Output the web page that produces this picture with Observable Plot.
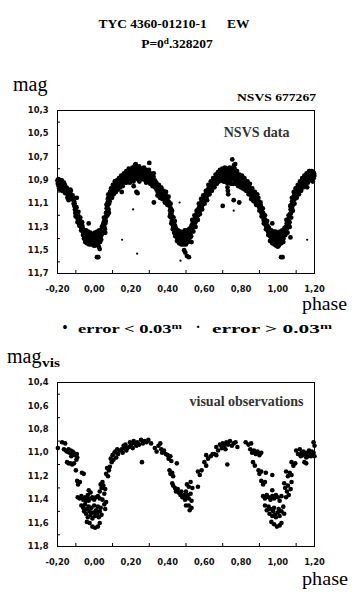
<!DOCTYPE html>
<html>
<head>
<meta charset="utf-8">
<script src="https://cdn.jsdelivr.net/npm/d3@7"></script>
<script src="https://cdn.jsdelivr.net/npm/@observablehq/plot@0.6"></script>
<style>
  html, body { margin: 0; padding: 0; background: #fff; }
  #root { position: relative; width: 355px; height: 594px; overflow: hidden; background: #fff; }
  .txt { position: absolute; line-height: 1; white-space: pre; font-family: "Liberation Serif", "Times New Roman", serif; color: #000; }
  .plotbox { position: absolute; left: 0; }
</style>
</head>
<body>
<div id="root"></div>
<script>
// ---------- tick values ----------
const xTickValues = [-0.2, 0, 0.2, 0.4, 0.6, 0.8, 1.0, 1.2];
const xMinorTicks = [-0.1, 0.1, 0.3, 0.5, 0.7, 0.9, 1.1];
const yTicksTop = [10.3, 10.5, 10.7, 10.9, 11.1, 11.3, 11.5, 11.7];
const yMinorTop = [10.4, 10.6, 10.8, 11.0, 11.2, 11.4, 11.6];
const yTicksBottom = [10.4, 10.6, 10.8, 11.0, 11.2, 11.4, 11.6, 11.8];
const yMinorBottom = [10.5, 10.7, 10.9, 11.1, 11.3, 11.5, 11.7];

// ---------- texts ----------
const titleLine1 = "TYC 4360-01210-1      EW";
const titleLine2 = ["P=0", "d", ".328207"];
const topYLabel = "mag";
const starId = "NSVS 677267";
const topPanelLabel = "NSVS data";
const bottomPanelLabel = "visual observations";
const xLabel = "phase";
const legendLow = ["error < 0.03", "m"];
const legendHigh = ["error > 0.03", "m"];
const bottomYLabel = ["mag", "vis"];

// ---------- NSVS data: error < 0.03 mag  [phase, mag] ----------
const nsvsPrecise = [
  [-0.200,10.90],[-0.198,10.93],[-0.195,10.89],[-0.193,10.95],[-0.190,10.91],[-0.188,10.93],[-0.185,10.90],[-0.183,10.96],
  [-0.180,10.92],[-0.178,10.94],[-0.175,10.91],[-0.172,10.95],[-0.170,10.93],[-0.167,10.96],[-0.165,10.92],[-0.162,10.97],
  [-0.160,10.94],[-0.185,10.98],[-0.175,10.99],
  [-0.155,10.98],[-0.150,11.00],[-0.148,10.97],[-0.145,11.02],[-0.142,11.04],[-0.140,10.99],[-0.138,11.03],[-0.136,11.05],
  [-0.134,11.01],[-0.130,10.98],[-0.128,11.02],[-0.125,11.04],[-0.120,11.06],[-0.115,11.05],[-0.095,11.05],
  [-0.110,11.08],[-0.108,11.12],[-0.105,11.15],[-0.103,11.18],[-0.100,11.14],[-0.098,11.20],[-0.095,11.17],[-0.093,11.22],
  [-0.090,11.19],[-0.088,11.24],[-0.085,11.21],[-0.083,11.26],[-0.080,11.23],[-0.078,11.28],[-0.075,11.25],[-0.072,11.30],
  [-0.070,11.27],[-0.067,11.32],[-0.065,11.29],[-0.062,11.34],
  [-0.058,11.36],[-0.055,11.33],[-0.052,11.38],[-0.050,11.35],[-0.047,11.40],[-0.045,11.36],[-0.042,11.38],[-0.040,11.41],
  [-0.037,11.37],[-0.035,11.39],[-0.032,11.42],[-0.030,11.36],[-0.027,11.40],[-0.025,11.38],[-0.022,11.43],[-0.020,11.37],
  [-0.017,11.40],[-0.015,11.42],[-0.012,11.38],[-0.010,11.44],[-0.007,11.39],[-0.005,11.41],[-0.002,11.37],[0.000,11.43],
  [0.003,11.39],[0.005,11.41],[0.008,11.36],[0.010,11.40],[0.012,11.45],[0.015,11.38],[0.018,11.42],[0.020,11.36],
  [0.022,11.39],[0.025,11.47],[0.028,11.37],[0.030,11.40],[0.033,11.35],[0.036,11.38],[0.040,11.33],[0.043,11.36],
  [-0.030,11.27],[0.005,11.46],[0.030,11.49],[0.015,11.56],[0.022,11.56],
  [0.045,11.31],[0.048,11.28],[0.050,11.33],[0.052,11.26],[0.055,11.30],[0.057,11.24],[0.060,11.27],[0.062,11.22],
  [0.064,11.18],[0.066,11.21],[0.068,11.14],[0.070,11.17],[0.071,11.10],[0.073,11.12],[0.074,11.06],[0.076,11.08],
  [0.078,11.15],[0.079,11.04],[0.081,11.10],[0.083,11.06],[0.085,11.02],[0.088,11.05],[0.060,11.35],
  [0.090,11.00],[0.093,11.03],[0.095,10.98],[0.098,11.01],[0.100,10.96],[0.103,10.99],[0.106,11.02],[0.108,10.95],
  [0.111,10.98],[0.114,10.94],[0.117,10.97],[0.120,10.93],[0.123,10.96],[0.126,10.92],[0.130,10.95],[0.133,10.91],
  [0.136,10.94],[0.140,10.90],[0.143,10.93],[0.146,10.89],[0.150,10.92],[0.153,10.88],[0.157,10.91],[0.150,11.00],
  [0.160,10.87],[0.163,10.90],[0.166,10.86],[0.170,10.89],[0.173,10.85],[0.176,10.92],[0.180,10.88],[0.183,10.84],
  [0.186,10.87],[0.190,10.83],[0.193,10.86],[0.196,10.90],[0.200,10.84],[0.203,10.81],[0.206,10.86],[0.210,10.83],
  [0.213,10.88],[0.216,10.80],[0.220,10.85],[0.222,10.77],[0.225,10.82],[0.228,10.79],[0.230,10.86],[0.233,10.83],
  [0.236,10.89],[0.240,10.81],[0.243,10.85],[0.246,10.91],[0.250,10.83],[0.253,10.80],[0.256,10.87],[0.260,10.84],
  [0.263,10.82],[0.266,10.89],[0.270,10.85],[0.273,10.81],[0.276,10.87],[0.280,10.84],[0.283,10.92],[0.286,10.86],
  [0.290,10.83],[0.293,10.88],[0.296,10.85],[0.300,10.91],[0.303,10.87],[0.306,10.84],[0.310,10.89],[0.313,10.93],
  [0.316,10.88],[0.320,10.91],[0.323,10.87],[0.326,10.94],[0.330,10.90],[0.333,10.93],
  [0.226,10.76],[0.300,10.75],[0.230,11.00],[0.236,11.01],[0.215,10.95],
  [0.336,10.95],[0.340,10.98],[0.343,10.95],[0.346,11.00],[0.350,10.97],[0.353,10.99],[0.356,11.02],[0.360,10.98],
  [0.363,11.01],[0.366,10.97],[0.370,11.03],[0.373,11.00],[0.376,11.05],[0.380,11.02],[0.383,11.04],[0.386,11.07],
  [0.390,11.03],[0.393,11.06],[0.396,11.09],[0.400,11.05],[0.403,11.08],[0.325,11.09],
  [0.410,11.12],[0.413,11.16],[0.415,11.19],[0.417,11.14],[0.419,11.22],[0.421,11.18],[0.423,11.25],[0.425,11.21],
  [0.427,11.28],[0.429,11.24],[0.431,11.30],[0.434,11.27],[0.437,11.32],[0.440,11.29],
  [0.443,11.34],[0.446,11.37],[0.449,11.33],[0.452,11.39],[0.455,11.36],[0.458,11.41],[0.461,11.37],[0.464,11.34],
  [0.467,11.40],[0.470,11.38],[0.473,11.42],[0.476,11.36],[0.479,11.39],[0.482,11.43],[0.485,11.37],[0.488,11.40],
  [0.491,11.35],[0.494,11.41],[0.497,11.38],[0.500,11.42],[0.503,11.36],[0.506,11.39],[0.509,11.34],[0.512,11.37],
  [0.515,11.40],[0.518,11.33],[0.521,11.36],[0.524,11.31],
  [0.490,11.50],[0.496,11.52],[0.505,11.55],[0.516,11.56],[0.530,11.43],
  [0.527,11.34],[0.530,11.29],[0.533,11.32],[0.536,11.27],[0.539,11.30],[0.542,11.25],[0.545,11.28],[0.548,11.23],
  [0.551,11.26],[0.554,11.21],[0.557,11.19],[0.560,11.23],[0.563,11.16],[0.566,11.20],[0.569,11.14],[0.572,11.17],
  [0.575,11.12],[0.578,11.15],[0.581,11.10],[0.584,11.13],[0.587,11.08],[0.590,11.11],[0.593,11.06],[0.596,11.09],
  [0.600,11.04],[0.603,11.07],[0.606,11.02],
  [0.610,11.05],[0.613,11.00],[0.616,11.03],[0.620,10.98],[0.623,11.01],[0.626,10.96],[0.630,10.99],[0.633,10.94],
  [0.636,10.97],[0.640,10.92],[0.643,10.95],[0.646,10.91],[0.650,10.94],[0.653,10.89],[0.656,10.92],[0.660,10.88],
  [0.663,10.91],[0.666,10.87],[0.670,10.90],[0.673,10.86],
  [0.676,10.89],[0.680,10.85],[0.683,10.88],[0.686,10.84],[0.690,10.87],[0.693,10.83],[0.696,10.90],[0.700,10.86],
  [0.703,10.82],[0.706,10.88],[0.710,10.85],[0.713,10.91],[0.716,10.83],[0.720,10.87],[0.723,10.92],[0.726,10.84],
  [0.730,10.88],[0.733,10.81],[0.736,10.86],[0.740,10.90],[0.743,10.83],[0.746,10.87],[0.750,10.80],[0.753,10.85],
  [0.756,10.89],[0.760,10.83],[0.763,10.87],[0.766,10.91],[0.770,10.86],[0.773,10.89],[0.776,10.84],[0.780,10.88],
  [0.783,10.92],[0.786,10.87],[0.790,10.90],[0.793,10.88],[0.796,10.93],[0.800,10.89],[0.803,10.92],[0.806,10.90],
  [0.810,10.94],[0.813,10.91],[0.816,10.93],[0.820,10.90],[0.823,10.95],
  [0.752,10.72],[0.762,10.77],[0.768,10.76],[0.700,11.12],[0.730,11.02],[0.726,10.96],[0.728,10.99],[0.760,11.07],[0.790,11.09],
  [0.826,10.92],[0.830,10.96],[0.833,10.93],[0.836,10.98],[0.840,10.95],[0.843,11.00],[0.846,10.96],[0.850,11.02],
  [0.853,10.98],[0.856,11.03],[0.860,11.00],[0.863,11.05],[0.866,11.01],[0.870,11.04],[0.873,11.07],[0.876,11.03],
  [0.880,11.06],[0.884,11.09],[0.887,11.05],[0.890,11.08],
  [0.893,11.11],[0.896,11.08],[0.899,11.13],[0.902,11.10],[0.905,11.15],[0.908,11.12],[0.911,11.18],[0.914,11.15],
  [0.917,11.21],[0.920,11.18],[0.923,11.24],[0.926,11.21],[0.929,11.27],[0.932,11.24],[0.935,11.29],[0.938,11.26],
  [0.941,11.32],[0.944,11.29],[0.947,11.34],[0.950,11.31],
  [0.953,11.36],[0.956,11.33],[0.959,11.38],[0.962,11.35],[0.965,11.40],[0.968,11.37],[0.971,11.34],[0.974,11.39],
  [0.977,11.42],[0.980,11.36],[0.983,11.40],[0.986,11.38],[0.989,11.43],[0.992,11.37],[0.995,11.41],[0.998,11.39],
  [1.001,11.44],[1.004,11.38],[1.007,11.42],[1.010,11.36],[1.013,11.40],[1.016,11.37],[1.019,11.41],[1.022,11.35],
  [1.025,11.39],[1.028,11.36],[1.031,11.40],[1.034,11.33],[1.037,11.37],
  [0.970,11.27],[0.990,11.46],[1.000,11.47],[1.018,11.56],[1.026,11.56],
  [1.040,11.33],[1.043,11.30],[1.046,11.34],[1.049,11.27],[1.052,11.31],[1.055,11.25],[1.058,11.28],[1.061,11.22],
  [1.064,11.26],[1.067,11.19],[1.070,11.15],[1.072,11.18],[1.074,11.11],[1.076,11.14],[1.078,11.08],[1.080,11.12],
  [1.083,11.05],[1.086,11.09],[1.089,11.03],[1.092,11.06],[1.069,11.39],
  [1.095,11.01],[1.098,11.04],[1.101,10.99],[1.104,11.02],[1.107,10.97],[1.110,11.00],[1.113,10.95],[1.116,10.98],
  [1.119,10.94],[1.122,10.97],[1.125,10.92],[1.128,10.95],[1.131,10.91],[1.134,10.94],[1.137,10.90],[1.140,10.93],
  [1.143,10.89],[1.146,10.92],[1.150,10.88],[1.153,10.91],[1.156,10.87],[1.160,10.90],[1.163,10.86],[1.166,10.89],
  [1.170,10.85],[1.173,10.88],[1.176,10.84],[1.180,10.87],[1.183,10.85],[1.186,10.89],[1.190,10.86],[1.193,10.83],
  [1.196,10.88],[1.199,10.86],[1.160,10.96],[1.185,10.82],[1.175,10.82],
  [-0.197,10.91],[-0.191,10.97],[-0.182,10.93],[-0.177,10.90],[-0.169,10.98],[-0.163,10.95],[-0.158,11.01],[-0.152,10.96],
  [-0.146,11.05],[-0.139,11.07],[-0.132,11.04],[-0.127,10.99],[-0.118,11.03],[-0.112,11.10],
  [-0.107,11.10],[-0.101,11.21],[-0.097,11.13],[-0.091,11.26],[-0.086,11.17],[-0.081,11.29],[-0.076,11.22],[-0.071,11.33],
  [-0.066,11.26],[-0.061,11.37],[-0.063,11.31],
  [-0.056,11.40],[-0.049,11.43],[-0.044,11.33],[-0.039,11.44],[-0.033,11.34],[-0.028,11.45],[-0.021,11.35],[-0.016,11.45],
  [-0.009,11.36],[-0.003,11.46],[0.004,11.35],[0.009,11.43],[0.016,11.34],[0.021,11.44],[0.027,11.33],[0.032,11.43],
  [0.038,11.41],[0.042,11.30],
  [0.047,11.35],[0.053,11.22],[0.058,11.32],[0.063,11.25],[0.067,11.11],[0.072,11.20],[0.077,11.02],[0.080,11.18],
  [0.084,11.08],[0.087,11.00],
  [0.092,10.97],[0.097,11.05],[0.102,10.94],[0.107,10.99],[0.112,10.91],[0.118,11.00],[0.124,10.90],[0.129,10.98],
  [0.135,10.88],[0.141,10.96],[0.147,10.86],[0.155,10.95],
  [0.162,10.84],[0.168,10.92],[0.175,10.82],[0.181,10.91],[0.188,10.80],[0.194,10.92],[0.201,10.88],[0.208,10.79],
  [0.214,10.91],[0.219,10.82],[0.226,10.88],[0.232,10.80],[0.238,10.85],[0.245,10.78],[0.251,10.88],[0.258,10.81],
  [0.265,10.86],[0.271,10.79],[0.278,10.90],[0.284,10.81],[0.291,10.86],[0.298,10.81],[0.305,10.93],[0.311,10.85],
  [0.318,10.95],[0.324,10.84],[0.331,10.96],
  [0.338,10.92],[0.345,11.03],[0.352,10.94],[0.358,11.05],[0.364,10.96],[0.371,11.06],[0.378,10.99],[0.385,11.09],
  [0.391,11.00],[0.398,11.11],[0.405,11.04],
  [0.408,11.09],[0.412,11.21],[0.416,11.10],[0.420,11.27],[0.424,11.16],[0.428,11.32],[0.432,11.22],[0.436,11.35],
  [0.439,11.25],[0.442,11.38],
  [0.445,11.31],[0.451,11.42],[0.457,11.33],[0.463,11.44],[0.469,11.34],[0.475,11.45],[0.481,11.35],[0.487,11.45],
  [0.493,11.33],[0.499,11.45],[0.505,11.33],[0.511,11.43],[0.517,11.32],[0.523,11.39],
  [0.528,11.38],[0.534,11.24],[0.540,11.34],[0.546,11.20],[0.552,11.30],[0.558,11.16],[0.564,11.24],[0.570,11.10],
  [0.576,11.19],[0.582,11.06],[0.588,11.15],[0.594,11.03],[0.601,11.10],
  [0.608,10.99],[0.615,11.07],[0.622,10.94],[0.628,11.02],[0.635,10.91],[0.641,10.99],[0.648,10.88],[0.655,10.96],
  [0.661,10.85],[0.668,10.93],[0.674,10.83],
  [0.679,10.91],[0.685,10.81],[0.692,10.90],[0.698,10.80],[0.705,10.91],[0.712,10.79],[0.718,10.90],[0.725,10.80],
  [0.732,10.92],[0.738,10.79],[0.745,10.93],[0.751,10.82],[0.758,10.93],[0.765,10.80],[0.772,10.93],[0.778,10.82],
  [0.785,10.95],[0.791,10.85],[0.798,10.96],[0.805,10.86],[0.811,10.97],[0.818,10.88],[0.822,10.98],
  [0.828,10.99],[0.835,10.91],[0.841,11.02],[0.848,10.93],[0.855,11.06],[0.861,10.97],[0.868,11.08],[0.875,11.00],
  [0.882,11.11],[0.888,11.02],
  [0.894,11.05],[0.900,11.16],[0.906,11.09],[0.912,11.21],[0.918,11.14],[0.924,11.27],[0.930,11.20],[0.936,11.32],
  [0.942,11.25],[0.948,11.37],
  [0.952,11.31],[0.958,11.42],[0.964,11.33],[0.970,11.44],[0.976,11.34],[0.982,11.45],[0.988,11.34],[0.994,11.45],
  [1.000,11.35],[1.006,11.46],[1.012,11.34],[1.018,11.44],[1.024,11.33],[1.030,11.43],[1.036,11.31],
  [1.041,11.37],[1.047,11.24],[1.053,11.35],[1.059,11.20],[1.065,11.30],[1.068,11.12],[1.073,11.22],[1.077,11.05],
  [1.082,11.16],[1.087,11.00],[1.091,11.10],
  [1.097,10.97],[1.103,11.05],[1.109,10.94],[1.115,11.02],[1.121,10.91],[1.127,10.99],[1.133,10.88],[1.139,10.96],
  [1.145,10.86],[1.151,10.94],[1.157,10.84],[1.164,10.92],[1.171,10.82],[1.178,10.90],[1.184,10.83],[1.191,10.91],
  [1.197,10.84]
];

// ---------- NSVS data: error > 0.03 mag ----------
const nsvsRough = [
  [0.212,11.15],[0.152,11.41],[0.234,11.53],[0.465,11.09],[0.470,11.59],[0.760,11.16],[1.160,11.41]
];

// ---------- visual observations [phase, mag] ----------
const visualObs = [
  [-0.198,10.96],[-0.175,10.91],[-0.158,10.92],[-0.165,10.97],[-0.155,10.98],[-0.148,10.99],[-0.140,10.97],[-0.135,11.00],
  [-0.128,10.98],[-0.122,11.01],[-0.118,10.99],[-0.112,11.00],[-0.125,11.03],[-0.105,11.02],[-0.095,11.01],[-0.092,11.04],
  [-0.097,11.06],[-0.148,11.08],[-0.140,11.09],[-0.130,11.09],[-0.120,11.10],[-0.110,11.09],[-0.100,11.15],[-0.067,11.17],
  [-0.057,11.18],[-0.093,11.24],[-0.088,11.27],[-0.078,11.25],[-0.030,11.32],[-0.020,11.34],
  [-0.090,11.38],[-0.080,11.39],[-0.070,11.37],[-0.060,11.40],[-0.050,11.38],[-0.040,11.39],[-0.030,11.41],[-0.020,11.39],
  [-0.010,11.38],[0.000,11.40],[0.010,11.38],[0.020,11.37],[0.030,11.39],[-0.035,11.36],[-0.045,11.41],
  [-0.070,11.45],[-0.060,11.47],[-0.055,11.50],[-0.050,11.44],[-0.045,11.52],[-0.040,11.48],[-0.035,11.55],[-0.030,11.46],
  [-0.025,11.50],[-0.020,11.53],[-0.015,11.47],[-0.010,11.56],[-0.005,11.51],[0.000,11.45],[0.005,11.54],[0.010,11.49],
  [0.015,11.52],[0.020,11.46],[0.025,11.55],[0.030,11.50],[0.035,11.47],[0.040,11.53],
  [-0.040,11.59],[-0.025,11.60],[-0.010,11.63],[0.005,11.64],[0.020,11.63],[0.030,11.60],
  [0.030,11.33],[0.035,11.27],[0.040,11.30],[0.045,11.25],[0.050,11.28],[0.055,11.35],[0.060,11.31],
  [0.045,11.40],[0.055,11.44],[0.060,11.48],[0.065,11.42],
  [0.065,11.18],[0.070,11.13],[0.075,11.20],[0.080,11.15],[0.085,11.12],
  [0.090,11.05],[0.095,11.08],[0.100,11.02],[0.105,11.06],[0.110,11.00],[0.120,11.04],
  [0.115,10.99],[0.125,10.97],[0.130,11.01],[0.140,10.98],[0.150,10.97],[0.155,11.00],[0.165,10.96],[0.175,10.98],
  [0.160,10.94],[0.170,10.93],[0.180,10.96],[0.190,10.95],[0.200,10.93],[0.210,10.96],[0.220,10.92],[0.230,10.94],
  [0.195,10.91],[0.215,10.90],[0.235,10.91],[0.245,10.93],[0.255,10.89],[0.265,10.92],[0.275,10.90],[0.285,10.91],
  [0.295,10.89],[0.310,10.92],[0.260,11.08],
  [0.330,10.96],[0.340,10.99],[0.350,10.94],[0.360,10.92],[0.365,10.97],[0.370,11.00],[0.380,10.98],[0.390,11.01],
  [0.400,11.02],[0.405,11.05],[0.415,11.03],[0.420,11.07],[0.450,11.09],
  [0.410,11.15],[0.415,11.18],[0.425,11.17],[0.430,11.20],
  [0.425,11.26],[0.430,11.28],[0.440,11.30],[0.445,11.33],[0.455,11.31],[0.460,11.34],[0.470,11.36],[0.475,11.33],
  [0.480,11.38],[0.490,11.36],[0.495,11.40],[0.505,11.38],[0.500,11.45],
  [0.500,11.33],[0.510,11.36],[0.515,11.39],[0.525,11.35],[0.530,11.41],
  [0.505,11.27],[0.515,11.29],[0.525,11.25],[0.535,11.30],
  [0.515,11.45],[0.520,11.49],[0.530,11.47],[0.565,11.29],
  [0.565,11.16],[0.575,11.19],[0.585,11.15],[0.600,11.08],[0.610,11.11],
  [0.610,11.02],[0.620,11.05],[0.635,11.03],[0.645,11.01],[0.655,11.01],[0.665,11.02],
  [0.665,10.95],[0.675,10.98],[0.685,10.93],[0.695,10.96],[0.710,10.94],[0.715,10.97],
  [0.700,10.92],[0.720,10.91],[0.730,10.93],[0.740,10.90],[0.750,10.94],[0.760,10.92],[0.770,10.91],[0.780,10.95],
  [0.725,11.10],
  [0.825,10.91],[0.840,10.93],[0.855,10.92],
  [0.850,10.97],[0.860,11.00],[0.870,10.98],[0.880,11.01],[0.890,10.99],[0.900,11.02],[0.910,11.00],
  [0.865,11.08],[0.875,11.11],
  [0.895,11.15],[0.900,11.18],[0.910,11.16],[0.935,11.17],
  [0.910,11.24],[0.920,11.27],[0.930,11.25],[0.970,11.19],
  [0.920,11.37],[0.930,11.39],[0.940,11.36],[0.950,11.38],[0.960,11.40],[0.970,11.37],[0.980,11.39],[0.990,11.36],
  [1.000,11.38],[1.010,11.41],[1.020,11.37],[0.970,11.32],
  [0.930,11.45],[0.940,11.49],[0.950,11.46],[0.955,11.52],[0.960,11.48],[0.970,11.54],[0.975,11.50],[0.980,11.47],
  [0.985,11.53],[0.990,11.55],[1.000,11.51],[1.005,11.48],[1.010,11.54],[1.020,11.50],[1.030,11.46],[1.035,11.52],
  [0.965,11.59],[0.980,11.61],[0.995,11.63],[1.010,11.62],[1.020,11.60],
  [1.035,11.26],[1.040,11.30],[1.050,11.33],[1.055,11.28],[1.060,11.36],[1.070,11.31],[1.075,11.25],[1.045,11.38],
  [1.045,11.16],[1.055,11.20],[1.065,11.17],[1.075,11.19],
  [1.075,11.08],[1.085,11.11],[1.095,11.09],
  [1.100,10.98],[1.110,11.01],[1.120,10.97],[1.130,11.00],
  [1.125,11.03],[1.135,11.02],[1.140,10.99],[1.150,11.01],[1.155,11.04],[1.160,11.00],[1.165,11.03],[1.170,10.98],
  [1.175,11.01],[1.180,11.03],[1.185,10.99],[1.190,11.02],[1.195,11.00],[1.200,11.03],
  [1.195,10.91],[1.200,10.94],[1.145,11.08],[1.155,11.09]
];

// ---------- helpers ----------
const root = document.getElementById("root");
const fmtX = d => d.toFixed(2).replace(".", ",");
const fmtY = d => d.toFixed(1).replace(".", ",");

function addText(html, {x, y, size, weight = "normal", anchor = "start", width = null, color = "#000"}) {
  const el = document.createElement("div");
  el.className = "txt";
  el.innerHTML = html;
  el.style.left = x + "px";
  el.style.top = (y - 0.8375 * size) + "px";
  el.style.fontSize = size + "px";
  el.style.fontWeight = weight;
  el.style.color = color;
  root.appendChild(el);
  let sx = 1;
  if (width) sx = width / el.getBoundingClientRect().width;
  const tx = anchor === "middle" ? "-50%" : anchor === "end" ? "-100%" : "0";
  el.style.transformOrigin = anchor === "middle" ? "center" : anchor === "end" ? "right" : "left";
  el.style.transform = `translateX(${tx}) scaleX(${sx})`;
  return el;
}
const sup = s => `<span style="position:relative;top:-0.45em;font-size:0.68em">${s}</span>`;

function panel({top, height, yDomain, yTicks, yMinor, precise, rough, dotR, label, labelDx, labelDy}) {
  const mT = 10, mB = 27, mL = 57, mR = 41;
  const frameH = height - mT - mB, frameW = 355 - mL - mR;
  const chart = Plot.plot({
    width: 355, height,
    marginLeft: mL, marginRight: mR, marginTop: mT, marginBottom: mB,
    style: {fontFamily: "'DejaVu Sans', sans-serif", fontSize: "8.4px", fontWeight: "bold", color: "#111", background: "transparent", overflow: "visible"},
    x: {domain: [-0.2, 1.2], ticks: xTickValues, tickSize: 0, tickPadding: 13, tickFormat: fmtX, label: null},
    y: {domain: yDomain, reverse: true, ticks: yTicks, tickSize: 0, tickPadding: 9, tickFormat: fmtY, label: null},
    marks: [
      Plot.frame({stroke: "#000", strokeWidth: 1}),
      Plot.ruleX(xMinorTicks, {insetTop: frameH - 3, stroke: "#000"}),
      Plot.ruleY(yMinor, {insetRight: frameW - 3, stroke: "#000"}),
      ...(rough ? [Plot.dot(rough, {x: d => d[0], y: d => d[1], r: 1.1, fill: "#000"})] : []),
      Plot.dot(precise, {x: d => d[0], y: d => d[1], r: dotR, fill: "#000"}),
      Plot.text([label], {text: d => d, frameAnchor: "top-right", textAnchor: "end", lineAnchor: "bottom",
        dx: labelDx, dy: labelDy, fontSize: 14, fontWeight: "bold", fontFamily: "'Liberation Serif', serif", fill: "#333"})
    ]
  });
  const box = document.createElement("div");
  box.className = "plotbox";
  box.style.top = top + "px";
  box.appendChild(chart);
  root.appendChild(box);
}

// ---------- panels ----------
panel({top: 100, height: 200, yDomain: [10.3, 11.7], yTicks: yTicksTop, yMinor: yMinorTop,
  precise: nsvsPrecise, rough: nsvsRough, dotR: 2.4, label: topPanelLabel, labelDx: -25, labelDy: 26});
panel({top: 372, height: 201, yDomain: [10.4, 11.8], yTicks: yTicksBottom, yMinor: yMinorBottom,
  precise: visualObs, rough: null, dotR: 2.3, label: bottomPanelLabel, labelDx: -11, labelDy: 23});

// ---------- surrounding text ----------
addText(titleLine1, {x: 174, y: 28, size: 13.5, weight: "bold", anchor: "middle"});
addText(titleLine2[0] + sup(titleLine2[1]) + titleLine2[2], {x: 177, y: 48, size: 13.5, weight: "bold", anchor: "middle"});
addText(topYLabel, {x: 13, y: 91, size: 20});
addText(starId, {x: 316, y: 101, size: 11, weight: "bold", anchor: "end", width: 79});
addText(xLabel, {x: 302, y: 310, size: 19, width: 45});
addText("\u2022", {x: 65, y: 333, size: 14, weight: "bold", anchor: "middle"});
addText(legendLow[0] + sup(legendLow[1]), {x: 78, y: 333, size: 13, weight: "bold", width: 104});
addText("\u00b7", {x: 198, y: 333, size: 14, weight: "bold", anchor: "middle"});
addText(legendHigh[0] + sup(legendHigh[1]), {x: 212, y: 333, size: 13, weight: "bold", width: 120});
addText(bottomYLabel[0], {x: 7, y: 363, size: 20});
addText(bottomYLabel[1], {x: 42, y: 367, size: 12, weight: "bold", width: 18});
addText(xLabel, {x: 302, y: 585, size: 19, width: 46});
</script>
</body>
</html>
